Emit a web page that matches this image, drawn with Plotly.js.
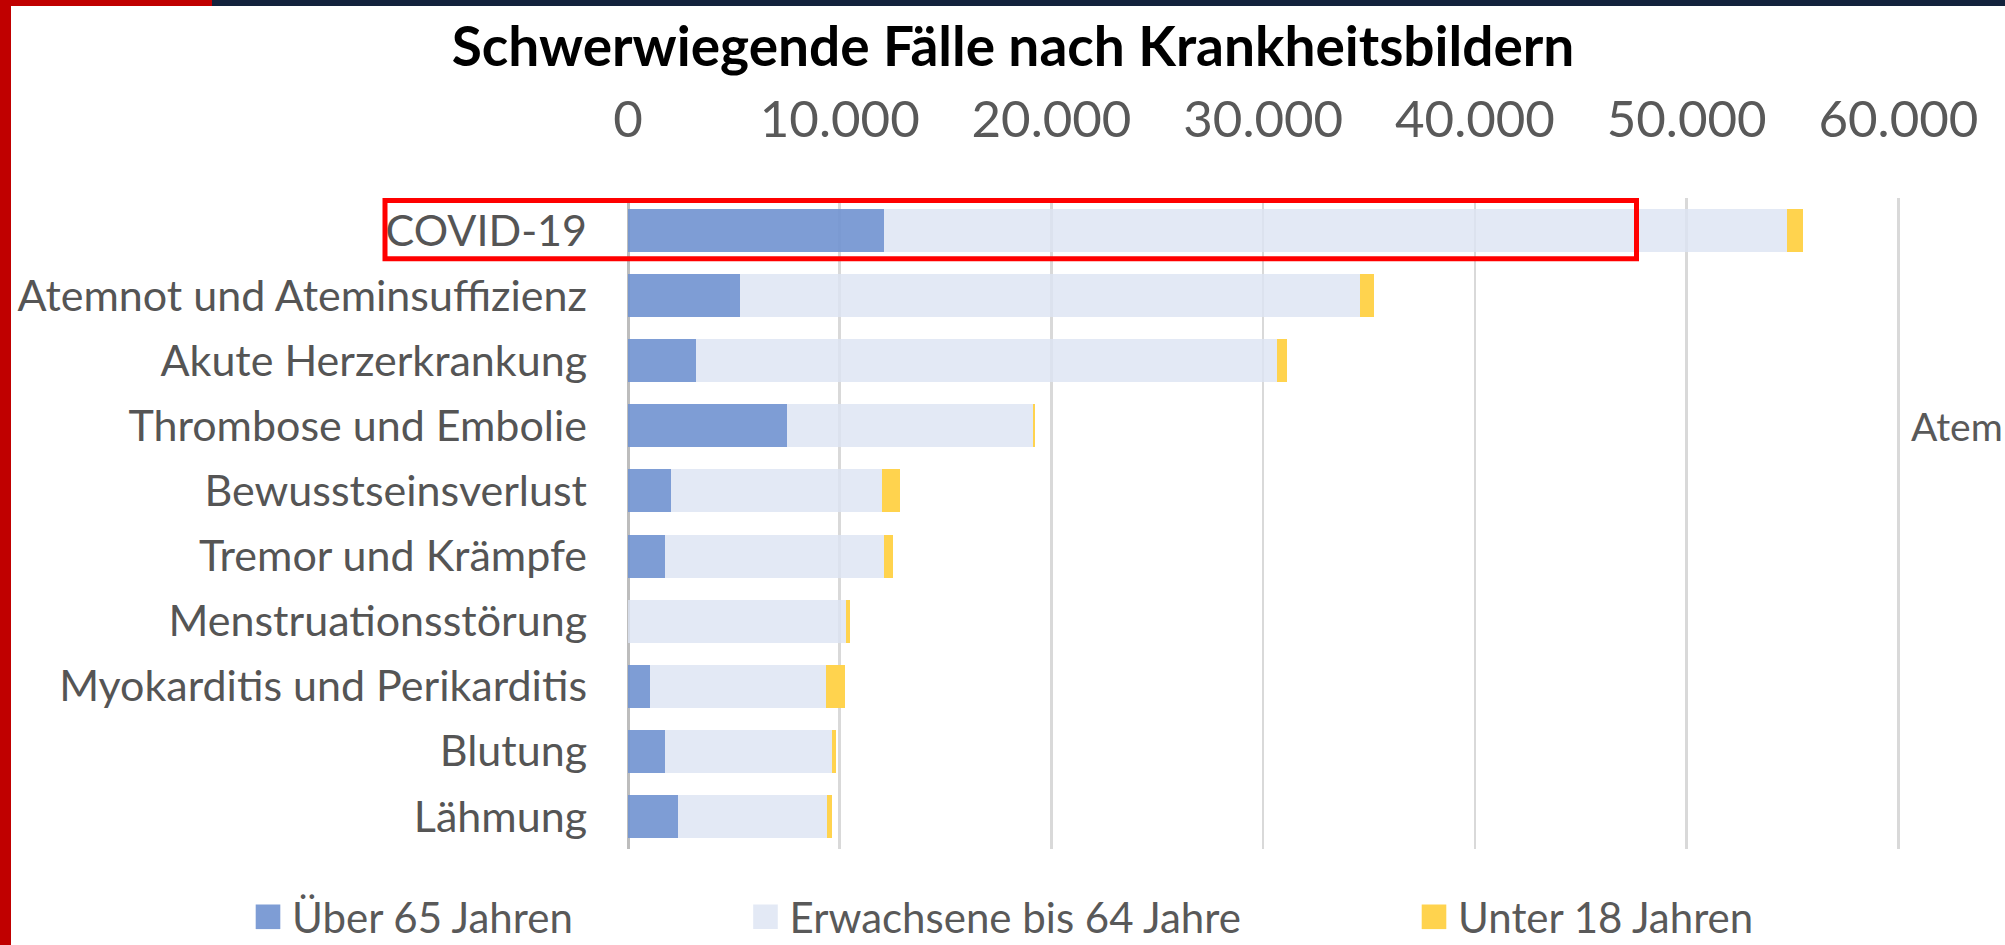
<!DOCTYPE html>
<html>
<head>
<meta charset="utf-8">
<script src="https://cdn.plot.ly/plotly-3.0.1.min.js"></script>
<style>html,body{margin:0;padding:0;background:#fff;}#chart{width:2005px;height:945px;}</style>
</head>
<body>
<div id="chart"></div>
<script>
// ---- data ----
const categories = [
  "COVID-19",
  "Atemnot und Ateminsuffizienz",
  "Akute Herzerkrankung",
  "Thrombose und Embolie",
  "Bewusstseinsverlust",
  "Tremor und Krämpfe",
  "Menstruationsstörung",
  "Myokarditis und Perikarditis",
  "Blutung",
  "Lähmung"
];
const ueber65 =      [12100, 5300, 3200, 7500, 2050, 1730,    20, 1040, 1730, 2360];
const erwachsene64 = [42640, 29290, 27430, 11630, 9950, 10360, 10290, 8310, 7920, 7040];
const unter18 =      [  730,   660,   510,    80,  850,   410,   190,  900,  170,  220];
const seriesNames = ["Über 65 Jahren", "Erwachsene bis 64 Jahre", "Unter 18 Jahren"];
const xTicks = [0, 10000, 20000, 30000, 40000, 50000, 60000];
const titleText = "Schwerwiegende Fälle nach Krankheitsbildern";
const cutLabel = "Atem";

// ---- layout geometry (pixels) ----
const W = 2005, H = 945;
const ML = 628, MR = 96, MT = 198, MB = 96;
const L = ML, R = W - MR, T = MT, B = H - MB;
const px = x => (x - L) / (R - L);
const py = y => (B - y) / (B - T);

const FONT = "Lato, 'Open Sans', sans-serif";
const GREY = "#595959";

const colors = ["rgba(112,146,208,0.9)", "rgba(220,228,243,0.8)", "#ffd34e"];
const vals = [ueber65, erwachsene64, unter18];
const legendIds = ["legend", "legend2", "legend3"];

const traces = vals.map((v, i) => ({
  type: "bar",
  orientation: "h",
  name: seriesNames[i],
  x: v,
  y: categories,
  marker: {color: colors[i], line: {width: 0}},
  legend: legendIds[i],
  showlegend: true,
  hoverinfo: "skip"
}));

const legendBase = {
  visible: true,
  orientation: "h",
  xanchor: "left",
  yanchor: "middle",
  y: py(917),
  bgcolor: "rgba(0,0,0,0)",
  font: {family: FONT, size: 42, color: GREY}
};

const layout = {
  width: W, height: H,
  autosize: false,
  showlegend: true,
  margin: {l: ML, r: MR, t: MT, b: MB, pad: 0, autoexpand: false},
  paper_bgcolor: "#ffffff",
  plot_bgcolor: "#ffffff",
  barmode: "stack",
  bargap: 0.34,
  separators: ",.",
  font: {family: FONT, color: GREY},
  title: {
    text: "<b>" + titleText + "</b>",
    font: {family: FONT, size: 55, color: "#000000"},
    x: 1013 / W, xref: "container", xanchor: "center",
    y: 1 - 47 / H, yref: "container", yanchor: "middle"
  },
  xaxis: {
    side: "top",
    range: [0, 60500],
    tickvals: xTicks,
    tickformat: ",d",
    showgrid: true,
    gridcolor: "#d9d9d9",
    gridwidth: 2.5,
    zeroline: true,
    zerolinecolor: "#bdbdbd",
    zerolinewidth: 3,
    showline: false,
    ticks: "",
    ticklabelstandoff: 50,
    tickfont: {family: FONT, size: 51, color: GREY},
    fixedrange: true
  },
  yaxis: {
    type: "category",
    autorange: "reversed",
    showgrid: false,
    zeroline: false,
    showline: false,
    ticks: "",
    ticklabelstandoff: 40,
    tickfont: {family: FONT, size: 43, color: "#555555"},
    fixedrange: true
  },
  legend: Object.assign({}, legendBase, {x: px(252)}),
  legend2: Object.assign({}, legendBase, {x: px(749.5)}),
  legend3: Object.assign({}, legendBase, {x: px(1418)}),
  annotations: [{
    text: cutLabel,
    xref: "paper", yref: "paper",
    x: px(1909), y: py(426),
    xanchor: "left", yanchor: "middle",
    showarrow: false,
    font: {family: FONT, size: 39, color: GREY}
  }],
  shapes: [
    // page frame: red left border, top band
    {type: "rect", xref: "paper", yref: "paper", x0: px(0), x1: px(W), y0: py(0), y1: py(6),
     fillcolor: "#13223c", line: {width: 0}, layer: "above"},
    {type: "rect", xref: "paper", yref: "paper", x0: px(0), x1: px(212), y0: py(0), y1: py(6),
     fillcolor: "#c00000", line: {width: 0}, layer: "above"},
    {type: "rect", xref: "paper", yref: "paper", x0: px(0), x1: px(11), y0: py(0), y1: py(H),
     fillcolor: "#c00000", line: {width: 0}, layer: "above"},
    // highlight box around COVID-19
    {type: "rect", xref: "paper", yref: "paper", x0: px(385), x1: px(1636.5), y0: py(258.7), y1: py(200.5),
     fillcolor: "rgba(0,0,0,0)", line: {color: "#ff0000", width: 5}, layer: "above"}
  ]
};

Plotly.newPlot("chart", traces, layout, {staticPlot: true, displayModeBar: false}).then(gd => {
  // enlarge the legend swatches to match the reference's square keys
  gd.querySelectorAll(".legendpoints path").forEach(p => {
    const orig = p.getAttribute("transform") || "";
    p.setAttribute("transform", orig + " translate(-4,0) scale(2.05)");
  });
});
</script>
</body>
</html>
